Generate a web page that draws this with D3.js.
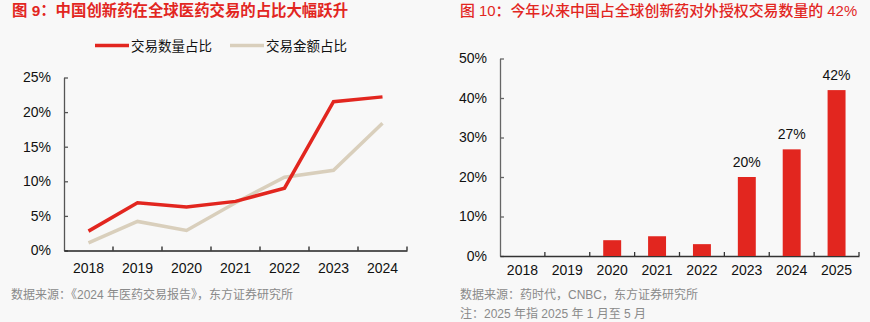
<!DOCTYPE html>
<html>
<head>
<meta charset="utf-8">
<script src="https://cdn.jsdelivr.net/npm/d3@7"></script>
<style>
  body { margin: 0; background: #f8f8f8; }
  svg { display: block; }
  text { font-family: "Liberation Sans", Arial, "Noto Sans CJK SC", sans-serif; }
</style>
</head>
<body>
<svg width="870" height="322"></svg>
<script>
// left panel: deal share by count / by value
var lineYears = ["2018", "2019", "2020", "2021", "2022", "2023", "2024"];
var countShare = [2.8, 6.9, 6.3, 7.1, 9.0, 21.5, 22.2];
var valueShare = [1.1, 4.2, 2.9, 6.9, 10.6, 11.6, 18.4];
var lineTicks = [0, 5, 10, 15, 20, 25];

// right panel: out-licensing deal share
var barYears = ["2018", "2019", "2020", "2021", "2022", "2023", "2024", "2025"];
var barShare = [0, 0, 4, 5, 3, 20, 27, 42];
var barLabelled = ["2023", "2024", "2025"];
var barTicks = [0, 10, 20, 30, 40, 50];

var red = "#e2261f", beige = "#d9cfbc", grey = "#8a8a8a";
var svg = d3.select("svg");

function styleAxis(g, color) {
    g.select(".domain").attr("stroke", color).attr("stroke-width", 1.3);
    g.selectAll(".tick line").attr("stroke", color).attr("stroke-width", 1.3);
    g.selectAll(".tick text").attr("fill", "#111").attr("font-size", 14)
        .attr("font-family", "'Liberation Sans', Arial, sans-serif");
}

// ---- left chart ----
var x1 = d3.scaleBand().domain(lineYears).range([64, 407]);
var y1 = d3.scaleLinear().domain([0, 25]).range([250.5, 77.5]);

svg.append("text").attr("x", 12).attr("y", 15.5)
    .attr("fill", red).attr("font-size", 15.4).attr("font-weight", "bold")
    .text("图 9：中国创新药在全球医药交易的占比大幅跃升");

var gy1 = svg.append("g").attr("transform", "translate(64,0)")
    .call(d3.axisLeft(y1).tickValues(lineTicks).tickSize(-4).tickSizeOuter(0)
        .tickPadding(13).tickFormat(function(d) { return d + "%"; }));
styleAxis(gy1, "#555");

var gx1 = svg.append("g").attr("transform", "translate(0,250.5)")
    .call(d3.axisBottom(x1).tickSize(0).tickSizeOuter(0).tickPadding(13));
styleAxis(gx1, "#222");
// category separators pointing up
svg.append("g").selectAll("line").data(lineYears)
    .enter().append("line")
    .attr("x1", function(d, i) { return x1.range()[0] + x1.step() * (i + 1); })
    .attr("x2", function(d, i) { return x1.range()[0] + x1.step() * (i + 1); })
    .attr("y1", 250.5).attr("y2", 246.5)
    .attr("stroke", "#222").attr("stroke-width", 1.3);

var line1 = d3.line()
    .x(function(d, i) { return x1(lineYears[i]) + x1.bandwidth() / 2; })
    .y(function(d) { return y1(d); });

svg.append("path").datum(valueShare).attr("d", line1)
    .attr("fill", "none").attr("stroke", beige).attr("stroke-width", 3.5);
svg.append("path").datum(countShare).attr("d", line1)
    .attr("fill", "none").attr("stroke", red).attr("stroke-width", 3.5);

// legend
var legend = [{ name: "交易数量占比", color: red, x: 95 }, { name: "交易金额占比", color: beige, x: 230 }];
var lg = svg.append("g").selectAll("g").data(legend).enter().append("g");
lg.append("line")
    .attr("x1", function(d) { return d.x; }).attr("x2", function(d) { return d.x + 34; })
    .attr("y1", 45.5).attr("y2", 45.5)
    .attr("stroke", function(d) { return d.color; }).attr("stroke-width", 3.5);
lg.append("text")
    .attr("x", function(d) { return d.x + 36; }).attr("y", 50.5)
    .attr("font-size", 13.5).attr("fill", "#111")
    .attr("font-family", "'Noto Sans CJK SC', sans-serif")
    .text(function(d) { return d.name; });

svg.append("text").attr("x", 11).attr("y", 298.5)
    .attr("fill", grey).attr("font-size", 12)
    .text("数据来源：《2024 年医药交易报告》，东方证券研究所");

// ---- right chart ----
var x2 = d3.scaleBand().domain(barYears).range([500, 859]).paddingInner(0.6).paddingOuter(0.3);
var y2 = d3.scaleLinear().domain([0, 50]).range([256, 58.5]);

svg.append("text").attr("x", 460).attr("y", 15.5)
    .attr("fill", red).attr("font-size", 14.9).attr("font-weight", 500)
    .text("图 10：今年以来中国占全球创新药对外授权交易数量的 42%");

var gy2 = svg.append("g").attr("transform", "translate(500,0)")
    .call(d3.axisLeft(y2).tickValues(barTicks).tickSize(-4).tickSizeOuter(0)
        .tickPadding(13).tickFormat(function(d) { return d + "%"; }));
styleAxis(gy2, "#666");

var gx2 = svg.append("g").attr("transform", "translate(0,256)")
    .call(d3.axisBottom(x2).tickSize(0).tickSizeOuter(0).tickPadding(9));
styleAxis(gx2, "#333");
var step2 = (859 - 500) / barYears.length;
svg.append("g").selectAll("line").data(barYears)
    .enter().append("line")
    .attr("x1", function(d, i) { return 500 + step2 * (i + 1); })
    .attr("x2", function(d, i) { return 500 + step2 * (i + 1); })
    .attr("y1", 256).attr("y2", 252)
    .attr("stroke", "#333").attr("stroke-width", 1.3);

var bars = barYears.map(function(year, i) { return { year: year, value: barShare[i] }; });

svg.append("g").selectAll("rect").data(bars)
    .enter().append("rect")
    .attr("x", function(d) { return x2(d.year); })
    .attr("y", function(d) { return y2(d.value); })
    .attr("width", x2.bandwidth())
    .attr("height", function(d) { return y2(0) - y2(d.value); })
    .attr("fill", red);

svg.append("g").selectAll("text")
    .data(bars.filter(function(d) { return barLabelled.indexOf(d.year) >= 0; }))
    .enter().append("text")
    .attr("x", function(d) { return x2(d.year) + x2.bandwidth() / 2; })
    .attr("y", function(d) { return y2(d.value) - 10; })
    .attr("text-anchor", "middle").attr("font-size", 14).attr("fill", "#111")
    .text(function(d) { return d.value + "%"; });

svg.append("text").attr("x", 460).attr("y", 298.5)
    .attr("fill", grey).attr("font-size", 12)
    .text("数据来源：药时代，CNBC，东方证券研究所");
svg.append("text").attr("x", 460).attr("y", 317.5)
    .attr("fill", grey).attr("font-size", 12)
    .text("注：2025 年指 2025 年 1 月至 5 月");
</script>
</body>
</html>
